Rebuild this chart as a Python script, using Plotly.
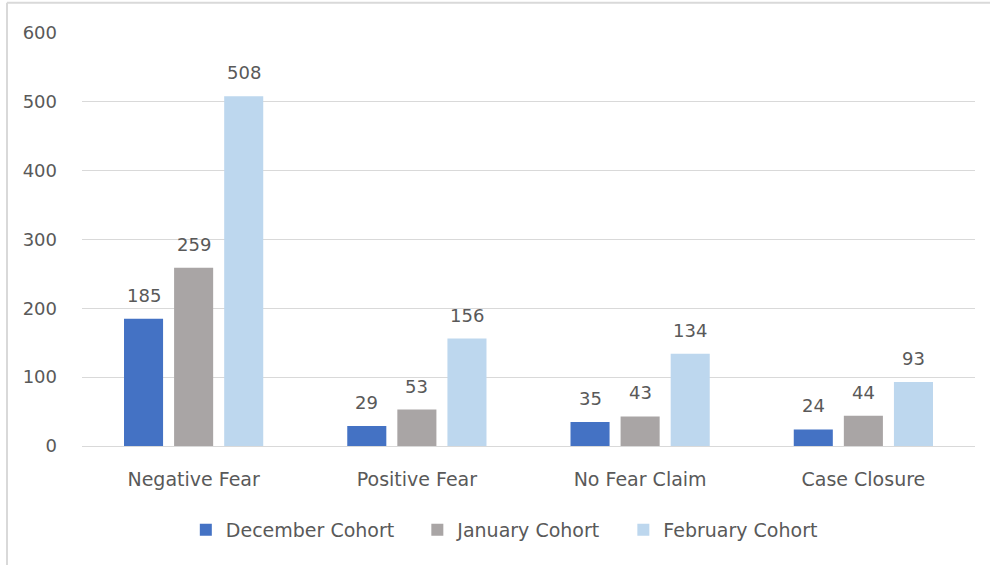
import plotly.graph_objects as go

categories = ["Negative Fear", "Positive Fear", "No Fear Claim", "Case Closure"]
december = [185, 29, 35, 24]
january = [259, 53, 43, 44]
february = [508, 156, 134, 93]

series = [
    ("December Cohort", december, "#4472C4"),
    ("January Cohort", january, "#A9A5A5"),
    ("February Cohort", february, "#BDD7EE"),
]

FONT = "'DejaVu Sans', sans-serif"
TEXT = "#595959"
SIZE = 18
SLOT = 50  # px between neighbouring bars in a group

fig = go.Figure()
for i, (name, vals, color) in enumerate(series):
    fig.add_trace(go.Bar(
        x=categories, y=vals,
        name=name + "\u00a0\u00a0\u00a0",  # extra room between legend entries
        marker=dict(color=color, line=dict(width=0)),
    ))
    # value labels sit a bit higher above the bars than plotly's own outside text
    for cat, v in zip(categories, vals):
        fig.add_annotation(
            x=cat, y=v, text=str(v), showarrow=False,
            xshift=(i - 1) * SLOT, yshift=11, yanchor="bottom",
            font=dict(size=SIZE, color=TEXT, family=FONT),
        )

fig.update_layout(
    width=990, height=565,
    margin=dict(l=82, r=15, t=33, b=119),
    paper_bgcolor="white", plot_bgcolor="white",
    barmode="group", bargap=0.327, bargroupgap=0.22,
    font=dict(family=FONT, color=TEXT, size=SIZE),
    showlegend=True,
    legend=dict(
        orientation="h", x=0.483, xanchor="center", y=-0.203, yanchor="middle",
        font=dict(size=19, color=TEXT, family=FONT),
        traceorder="normal",
    ),
    xaxis=dict(showgrid=False, showline=False, ticks="", ticklabelstandoff=20,
               tickfont=dict(size=19, color=TEXT)),
    yaxis=dict(
        range=[0, 600], dtick=100, gridcolor="#D9D9D9", gridwidth=1,
        zeroline=True, zerolinecolor="#D9D9D9", zerolinewidth=1,
        showline=False, ticks="", ticklabelstandoff=24,
        tickfont=dict(size=SIZE, color=TEXT),
    ),
    shapes=[
        dict(type="line", xref="paper", yref="paper", x0=-0.084, x1=-0.084, y0=-0.3, y1=1.073,
             line=dict(color="#D9D9D9", width=2)),
        dict(type="line", xref="paper", yref="paper", x0=-0.084, x1=1.02, y0=1.073, y1=1.073,
             line=dict(color="#D9D9D9", width=2)),
    ],
)

fig.write_html("out.html", config={"displayModeBar": False},
               post_script="document.body.style.margin='0';")
